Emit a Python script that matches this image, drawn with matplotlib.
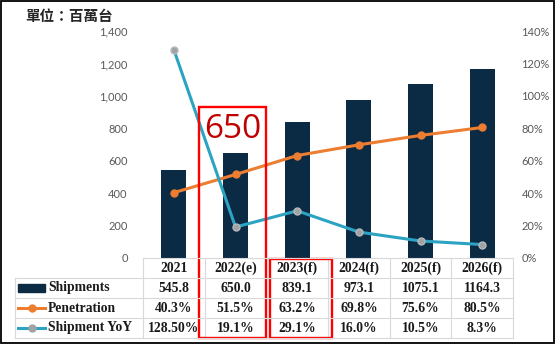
import matplotlib
matplotlib.use("Agg")
import matplotlib.pyplot as plt
from matplotlib.patches import Rectangle
from matplotlib.lines import Line2D
from matplotlib.ticker import FuncFormatter, MultipleLocator
import matplotlib.transforms as mtransforms

years = ["2021", "2022(e)", "2023(f)", "2024(f)", "2025(f)", "2026(f)"]
shipments = [545.8, 650.0, 839.1, 973.1, 1075.1, 1164.3]
penetration = [40.3, 51.5, 63.2, 69.8, 75.6, 80.5]
yoy = [128.5, 19.1, 29.1, 16.0, 10.5, 8.3]
ship_lbl = ["545.8", "650.0", "839.1", "973.1", "1075.1", "1164.3"]
pen_lbl = ["40.3%", "51.5%", "63.2%", "69.8%", "75.6%", "80.5%"]
yoy_lbl = ["128.50%", "19.1%", "29.1%", "16.0%", "10.5%", "8.3%"]
series_names = ["Shipments", "Penetration", "Shipment YoY"]

W, H = 555, 344
fig = plt.figure(figsize=(W/100, H/100), dpi=100)

def fx(px): return px / W
def fy(py): return 1 - py / H

L, R, T, B = 143, 513, 31, 258
ax = fig.add_axes([fx(L), fy(B), fx(R) - fx(L), fy(T) - fy(B)])
ax2 = ax.twinx()

NAVY = "#0B2B45"
ORANGE = "#ED7D31"
TEAL = "#2CA3C2"
GRAY = "#9FA3A6"
TICK = "#595959"

x = list(range(len(years)))
ax.bar(x, shipments, width=0.41, color=NAVY, zorder=2)
ax.set_xlim(-0.5, len(years) - 0.5)
ax.set_ylim(0, 1400)
ax.yaxis.set_major_locator(MultipleLocator(200))
ax.yaxis.set_major_formatter(FuncFormatter(lambda v, p: f"{int(v):,}"))

ax2.plot(x, penetration, color=ORANGE, lw=2.2, marker="o", ms=5,
         mfc=ORANGE, mec=ORANGE, zorder=3)
ax2.plot(x, yoy, color=TEAL, lw=2.2, marker="o", ms=5,
         mfc=GRAY, mec="#B5B9BC", zorder=3)
ax2.set_ylim(0, 140)
ax2.yaxis.set_major_locator(MultipleLocator(20))
ax2.yaxis.set_major_formatter(FuncFormatter(lambda v, p: f"{int(v)}%"))

for a in (ax, ax2):
    for s in a.spines.values():
        s.set_visible(False)
    a.tick_params(length=0, labelsize=8, labelcolor=TICK)
    for lab in a.get_yticklabels():
        lab.set_family("Lato")
ax.tick_params(axis="y", pad=11)
ax2.tick_params(axis="y", pad=6)
ax.set_xticks([])

# --- data table ---
rows_px = [258, 278, 298, 318, 338]
GRID = "#D9D9D9"
blend = mtransforms.blended_transform_factory(ax.transData, fig.transFigure)

fig.add_artist(Line2D([fx(L), fx(R)], [fy(258)] * 2, color=GRID, lw=0.8))
for py in rows_px[1:]:
    fig.add_artist(Line2D([fx(15), fx(R)], [fy(py)] * 2, color=GRID, lw=0.8))
for i in range(len(years) + 1):
    ax.add_line(Line2D([i - 0.5, i - 0.5], [fy(258), fy(338)], color=GRID,
                       lw=0.8, transform=blend, clip_on=False))
fig.add_artist(Line2D([fx(15)] * 2, [fy(278), fy(338)], color=GRID, lw=0.8))

tfont = dict(family="Liberation Serif", weight="bold", size=9.8, color="#1A1A1A")
table_rows = [years, ship_lbl, pen_lbl, yoy_lbl]
for r, vals in enumerate(table_rows):
    yc = fy((rows_px[r] + rows_px[r + 1]) / 2)
    for i, v in enumerate(vals):
        ax.text(i, yc, v, transform=blend, ha="center", va="center",
                clip_on=False, **tfont)

for r, name in enumerate(series_names):
    yc = fy((rows_px[r + 1] + rows_px[r + 2]) / 2)
    fig.text(fx(48), yc, name, ha="left", va="center", **tfont)
    if r == 0:
        fig.add_artist(Rectangle((fx(18), yc - 4 / H), fx(45) - fx(18), 8 / H,
                                 color=NAVY))
    else:
        c = ORANGE if r == 1 else TEAL
        mf = ORANGE if r == 1 else GRAY
        fig.add_artist(Line2D([fx(18), fx(45)], [yc, yc], color=c, lw=2.2))
        fig.add_artist(Line2D([fx(31.5)], [yc], color=c, marker="o", ms=5,
                              mfc=mf, mec=mf, lw=0))

fig.text(fx(25), fy(16), "單位：百萬台", family=["Noto Sans CJK TC", "DejaVu Sans"],
         weight="bold", size=10.5, color="#262626", ha="left", va="center")

RED = "#FF0000"
fig.add_artist(Rectangle((fx(199), fy(338)), fx(266) - fx(199), fy(107) - fy(338),
                         fill=False, ec=RED, lw=1.7))
fig.add_artist(Rectangle((fx(270), fy(338)), fx(332) - fx(270), fy(259) - fy(338),
                         fill=False, ec=RED, lw=1.7))
fig.text(fx(233), fy(129), "650", family="Open Sans", size=24, color="#C00000",
         ha="center", va="center")

fig.add_artist(Rectangle((0.0015, 0.002), 0.996, 0.995, fill=False, ec="black",
                         lw=1.3))

fig.savefig("out.png", dpi=100)
